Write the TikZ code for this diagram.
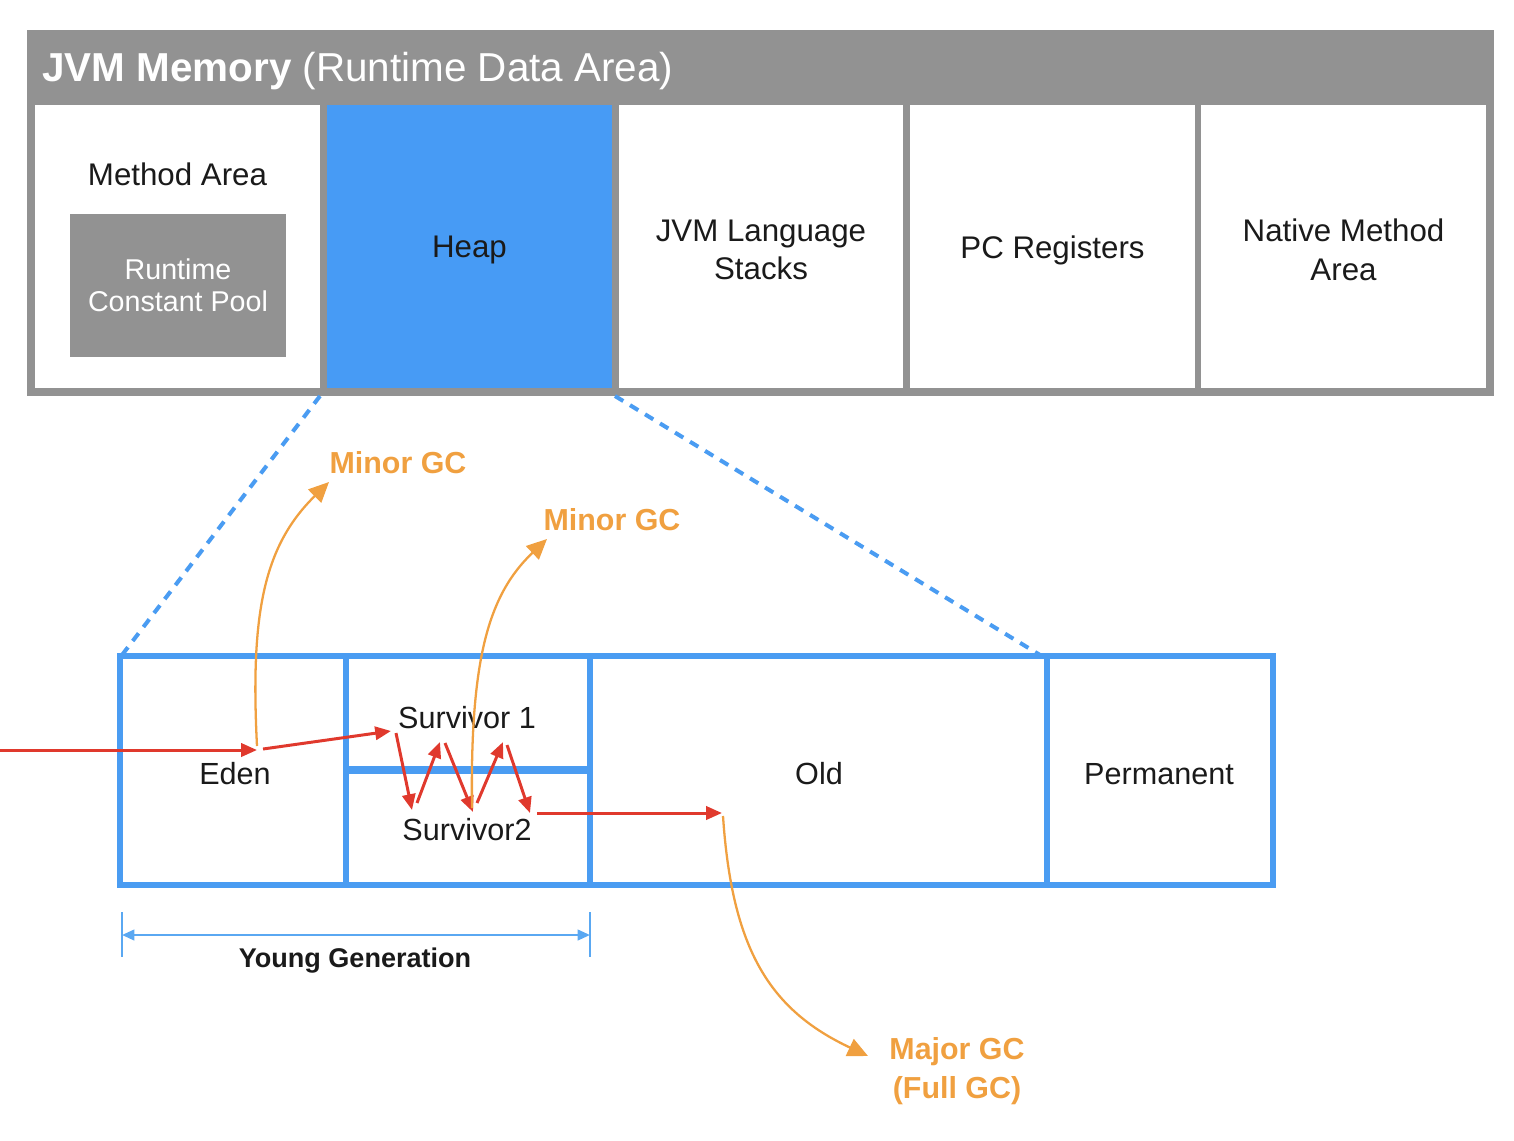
\documentclass[tikz,border=0pt]{standalone}
\usepackage{fontspec}
\setmainfont{Liberation Sans}
\usetikzlibrary{arrows.meta}
\definecolor{jgray}{HTML}{929292}
\definecolor{jblue}{HTML}{479BF5}
\definecolor{jline}{HTML}{4A9CF2}
\definecolor{jdim}{HTML}{5AA8F2}
\definecolor{jred}{HTML}{E0392D}
\definecolor{jorange}{HTML}{F0A040}
\definecolor{jtext}{HTML}{1A1A1A}
\tikzset{
  topbox/.style={draw=none, fill=white, minimum width=5.7cm, minimum height=5.66cm, inner sep=0pt},
  toptxt/.style={align=center, text=jtext, inner sep=0pt, font=\fontsize{17.8}{22}\selectfont},
  poolbox/.style={fill=jgray, minimum width=4.32cm, minimum height=2.86cm, inner sep=0pt, align=center, text=white, font=\fontsize{16.3}{18.5}\selectfont},
  lbl/.style={text=jtext, font=\fontsize{17.4}{20}\selectfont, inner sep=0pt},
  gclbl/.style={text=jorange, font=\bfseries\fontsize{17.3}{22}\selectfont, inner sep=0pt, align=center},
  redarrow/.style={draw=jred, line width=1.7pt, -{Triangle[length=9pt,width=7.5pt]}},
  gcarrow/.style={draw=jorange, line width=1.3pt, -{Triangle[length=11.5pt,width=10.5pt]}},
  blueline/.style={draw=jline, line width=3.4pt},
  zoomline/.style={draw=jline, line width=2.3pt, dash pattern=on 5.5pt off 4.5pt},
  dimline/.style={draw=jdim, line width=1.3pt}
}
\begin{document}
\begin{tikzpicture}[x=0.02cm, y=-0.02cm]
\useasboundingbox (0,0) rectangle (1514,1140);
% top: JVM memory
\fill[jgray] (27,30) rectangle (1494,396);
\node[anchor=west, text=white, inner sep=0pt, font=\fontsize{23}{26}\selectfont] (title) at (42,71) {\textbf{JVM Memory} (Runtime Data Area)};
\node[topbox] (ma) at (177.5,246.5) {};
\node[topbox, fill=jblue] (heap) at (469.5,246.5) {};
\node[topbox] (stk) at (761,246.5) {};
\node[topbox] (pc) at (1052.5,246.5) {};
\node[topbox] (nat) at (1343.5,246.5) {};
\node[toptxt] (matxt) at (177.5,174) {Method Area};
\node[toptxt] (heaptxt) at (469.5,250) {Heap};
\node[toptxt] (stktxt) at (761,250) {JVM Language\\Stacks};
\node[toptxt] (pctxt) at (1052.5,250) {PC Registers};
\node[toptxt] (nattxt) at (1343.5,250) {Native Method\\Area};
\node[poolbox] (pool) at (178,285.5) {Runtime\\Constant Pool};
% zoom lines
\coordinate (hl) at (320,396);
\coordinate (hr) at (615,396);
\coordinate (gl) at (122,655);
\coordinate (gr) at (1040,655);
\draw[zoomline] (hl) -- (gl);
\draw[zoomline] (hr) -- (gr);
% heap generations
\draw[blueline] (120,656) rectangle (1273,885);
\draw[blueline] (346,656) -- (346,885);
\draw[blueline] (590,656) -- (590,885);
\draw[blueline] (1047,656) -- (1047,885);
\draw[draw=jline, line width=5pt] (346,770) -- (590,770);
\node[lbl] (eden) at (235,774) {Eden};
\node[lbl] (s1) at (467,718) {Survivor 1};
\node[lbl] (s2) at (467,830) {Survivor2};
\node[lbl] (old) at (819,774) {Old};
\node[lbl] (perm) at (1159,774) {Permanent};
% young generation dimension
\coordinate (yl) at (122,935);
\coordinate (yr) at (590,935);
\draw[dimline] (122,912) -- (122,957);
\draw[dimline] (590,912) -- (590,957);
\draw[dimline, {Triangle[length=7pt,width=6pt]}-{Triangle[length=7pt,width=6pt]}] (yl) -- (yr);
\node[text=jtext, font=\bfseries\fontsize{15.4}{18}\selectfont, inner sep=0pt] (yg) at (355,961) {Young Generation};
% red object flow
\coordinate (in) at (0,750);
\coordinate (e1) at (257,750);
\coordinate (e2) at (263,749);
\coordinate (a) at (391,731);
\coordinate (a2) at (396,733);
\coordinate (b) at (412,810);
\coordinate (b2) at (417,803);
\coordinate (c) at (440,742);
\coordinate (c2) at (445,743);
\coordinate (d) at (473,812);
\coordinate (d2) at (477,803);
\coordinate (e) at (503,742);
\coordinate (e3) at (507,745);
\coordinate (f) at (530,813);
\coordinate (f2) at (537,813);
\coordinate (g) at (722,813);
\draw[redarrow] (in) -- (e1);
\draw[redarrow] (e2) -- (a);
\draw[redarrow] (a2) -- (b);
\draw[redarrow] (b2) -- (c);
\draw[redarrow] (c2) -- (d);
\draw[redarrow] (d2) -- (e);
\draw[redarrow] (e3) -- (f);
\draw[redarrow] (f2) -- (g);
% GC arrows
\node[gclbl] (gc1) at (398,463) {Minor GC};
\node[gclbl] (gc2) at (612,520) {Minor GC};
\node[gclbl] (gc3) at (957,1071) {Major GC\\(Full GC)};
\coordinate (t1) at (329,482);
\coordinate (t2) at (547,539);
\coordinate (t3) at (868,1056);
\draw[gcarrow] (257,746) .. controls (250,610) and (265,545) .. (t1);
\draw[gcarrow] (472,808) .. controls (470,660) and (488,595) .. (t2);
\draw[gcarrow] (723,816) .. controls (732,950) and (770,1010) .. (t3);
\end{tikzpicture}
\end{document}
